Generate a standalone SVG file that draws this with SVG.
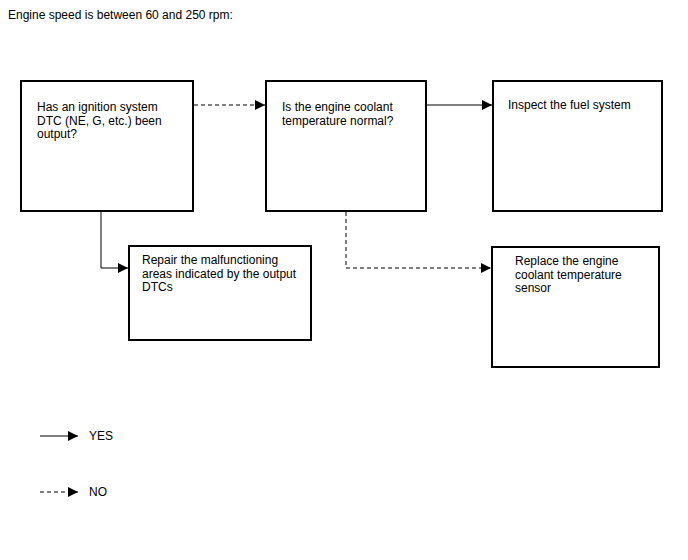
<svg xmlns="http://www.w3.org/2000/svg" width="688" height="560" viewBox="0 0 688 560">
<style>
.box{fill:#fff;stroke:#000;stroke-width:2}
.t{font-family:"Liberation Sans",Arial,sans-serif;font-size:12px;fill:#000}
.ln{fill:none;stroke:#000;stroke-width:1}
.dash{stroke-dasharray:4,3}
</style>
<defs>
<marker id="ah" viewBox="0 0 10 10" refX="10" refY="5" markerWidth="10" markerHeight="10" markerUnits="userSpaceOnUse" orient="auto">
<path d="M0,0 L10,5 L0,10 Z" fill="#000"/>
</marker>
</defs>
<text class="t" x="8" y="19">Engine speed is between 60 and 250 rpm:</text>
<g id="n1">
<rect class="box" x="21" y="81" width="172" height="130"/>
<text class="t" x="37" y="111">Has an ignition system</text>
<text class="t" x="37" y="124.5">DTC (NE, G, etc.) been</text>
<text class="t" x="37" y="138">output?</text>
</g>
<g id="n2">
<rect class="box" x="266" y="81" width="160" height="130"/>
<text class="t" x="282" y="111">Is the engine coolant</text>
<text class="t" x="282" y="124.5">temperature normal?</text>
</g>
<g id="n3">
<rect class="box" x="493" y="81" width="169" height="130"/>
<text class="t" x="508" y="108.5">Inspect the fuel system</text>
</g>
<g id="n4">
<rect class="box" x="129" y="246" width="182" height="94"/>
<text class="t" x="142" y="264">Repair the malfunctioning</text>
<text class="t" x="142" y="277.5">areas indicated by the output</text>
<text class="t" x="142" y="291">DTCs</text>
</g>
<g id="n5">
<rect class="box" x="492" y="247" width="167" height="120"/>
<text class="t" x="515" y="265">Replace the engine</text>
<text class="t" x="515" y="278.5">coolant temperature</text>
<text class="t" x="515" y="292">sensor</text>
</g>
<g id="connectors">
<path class="ln dash" d="M194,105 H265" marker-end="url(#ah)"/>
<path class="ln" d="M427,105 H492" marker-end="url(#ah)"/>
<path class="ln" d="M101,212 V268 H128" marker-end="url(#ah)"/>
<path class="ln dash" d="M346,212 V268 H491" marker-end="url(#ah)"/>
</g>
<g id="legend">
<path class="ln" d="M40,436 H78" marker-end="url(#ah)"/>
<text class="t" x="89" y="440">YES</text>
<path class="ln dash" d="M40,492 H78" marker-end="url(#ah)"/>
<text class="t" x="89" y="496">NO</text>
</g>
</svg>
